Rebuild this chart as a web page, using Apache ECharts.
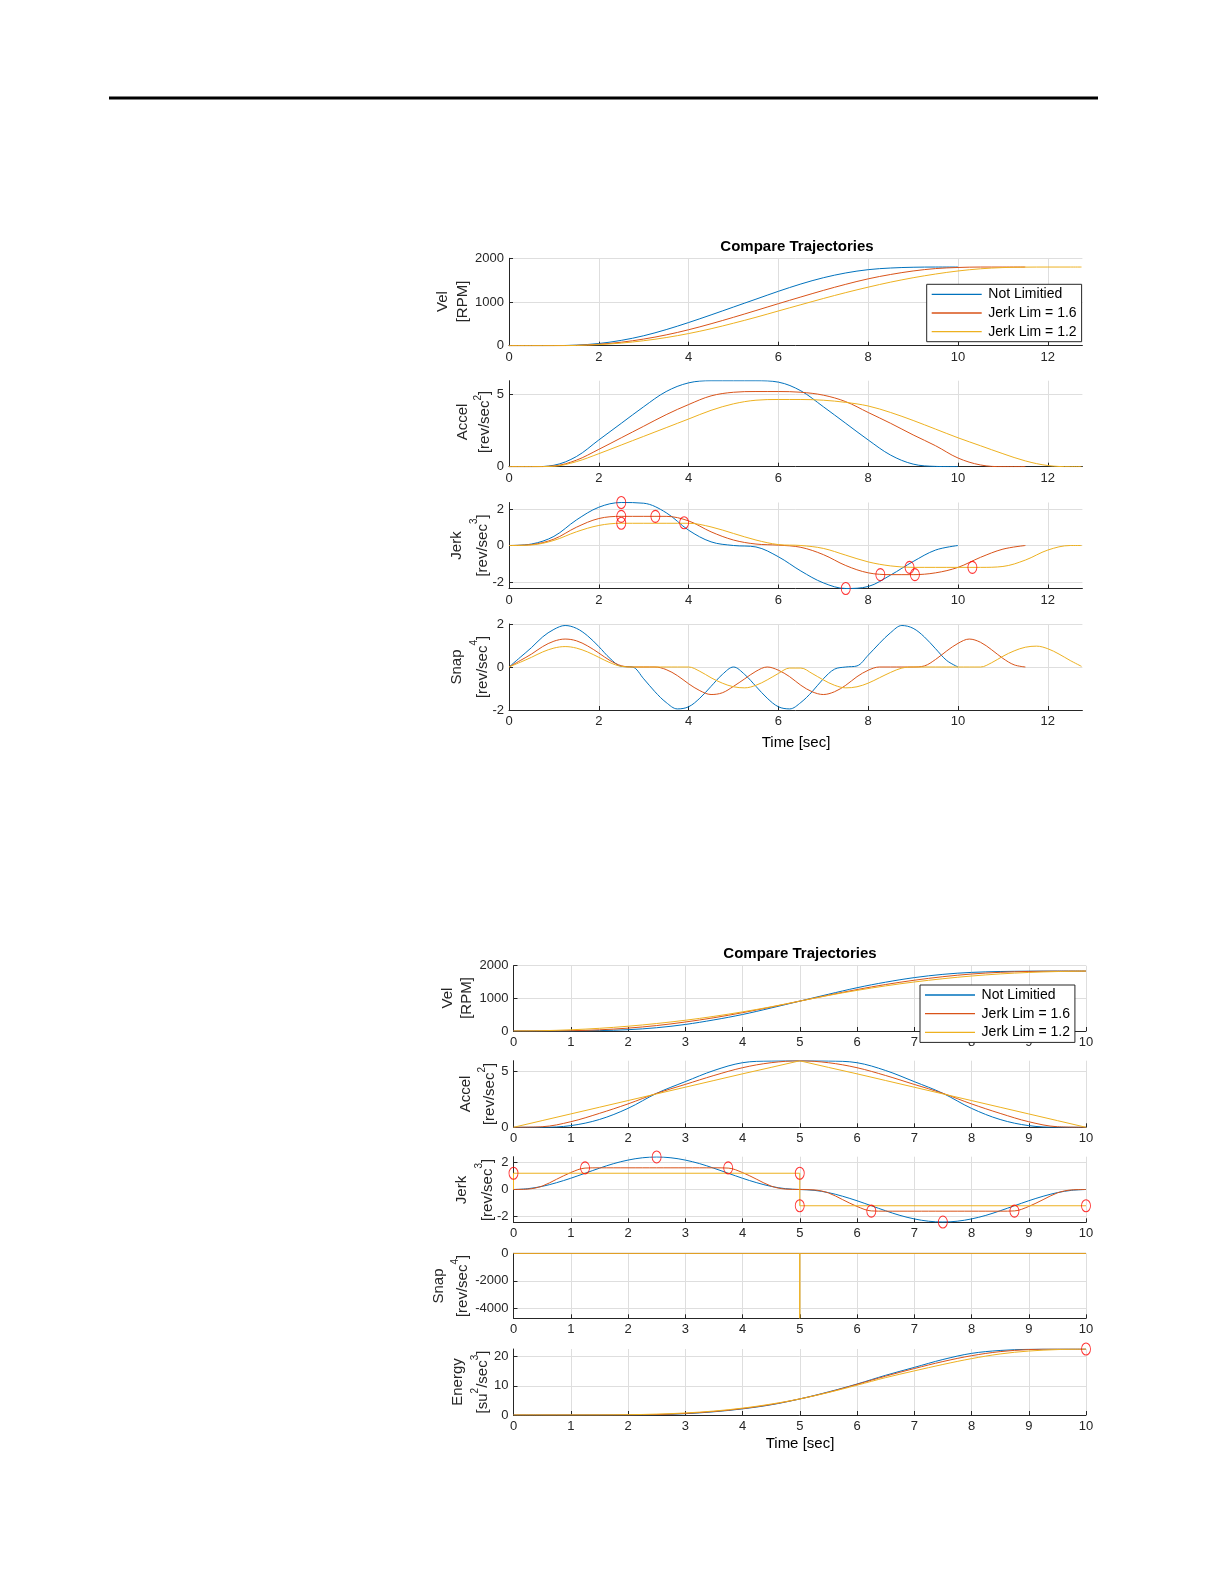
<!DOCTYPE html>
<html>
<head>
<meta charset="utf-8">
<script src="https://cdn.jsdelivr.net/npm/echarts@6/dist/echarts.min.js"></script>
<style>
html,body{margin:0;padding:0;background:#ffffff;}
#chart{width:1224px;height:1584px;}
</style>
</head>
<body>
<div id="chart"></div>
<script>
// ---------------- DATA ----------------
const seriesNames = ['Not Limitied', 'Jerk Lim = 1.6', 'Jerk Lim = 1.2'];

// Top figure: time grids [sec]
const tTop = [0,0.5,1,1.5,2,2.5,3,3.5,4,4.5,5,5.5,6,6.5,7,7.5,8,8.5,9,9.5,10,10.5,11,11.5,12,12.5,12.75];
const tTopS = [0,0.25,0.5,0.75,1,1.25,1.5,1.75,2,2.25,2.5,2.75,3,3.25,3.5,3.75,4,4.25,4.5,4.75,5,5.25,5.5,5.75,6,6.25,6.5,6.75,7,7.25,7.5,7.75,8,8.25,8.5,8.75,9,9.25,9.5,9.75,10,10.25,10.5,10.75,11,11.25,11.5,11.75,12,12.25,12.5,12.75];

// Top: Vel [RPM]
const velTopBlue = [0,0,2,13,50,122,228,368,530,705,885,1065,1245,1412,1555,1665,1740,1778,1795,1800,1800];
const velTopRed = [0,0,1,8,33,80,152,247,365,502,650,805,962,1115,1265,1405,1530,1630,1710,1765,1790,1800,1800,1800];
const velTopYellow = [0,0,0,6,25,60,114,186,278,388,515,650,795,938,1080,1215,1340,1455,1555,1640,1710,1760,1788,1798,1800,1800,1800];

// Top: Accel [rev/sec^2]
const accTopBlue = [0,0,0.1,0.7,1.85,3.0,4.15,5.2,5.8,5.95,5.95,5.95,5.85,5.25,4.15,3.0,1.85,0.8,0.18,0.02,0];
const accTopRed = [0,0,0.05,0.45,1.2,2.0,2.8,3.6,4.3,4.9,5.15,5.2,5.2,5.15,4.95,4.5,3.75,3.0,2.2,1.45,0.6,0.12,0,0];
const accTopYellow = [0,0,0.03,0.35,0.9,1.5,2.1,2.7,3.3,3.9,4.35,4.6,4.65,4.65,4.6,4.45,4.2,3.75,3.2,2.6,2.0,1.45,0.9,0.4,0.08,0,0];

// Top: Jerk [rev/sec^3]
const jerkTopBlue = [0,0.08,0.5,1.4,2.1,2.36,2.32,1.8,0.84,0.2,0,-0.08,-0.62,-1.4,-2.05,-2.36,-2.25,-1.62,-0.88,-0.25,0];
const jerkTopRed = [0,0.05,0.35,1.0,1.48,1.6,1.6,1.6,1.35,0.75,0.3,0.08,0.02,-0.1,-0.5,-1.1,-1.5,-1.6,-1.6,-1.5,-1.2,-0.65,-0.2,0];
const jerkTopYellow = [0,0.03,0.28,0.75,1.1,1.22,1.22,1.22,1.22,1.02,0.66,0.3,0.05,0,-0.16,-0.53,-0.9,-1.12,-1.2,-1.2,-1.2,-1.2,-1.15,-0.8,-0.25,0,0];
const jerkTopMarkT = [2.5,2.5,2.5,3.26,3.9,7.5,8.27,8.92,9.04,10.32];
const jerkTopMarkV = [2.36,1.6,1.22,1.6,1.25,-2.36,-1.6,-1.2,-1.6,-1.2];

// Top: Snap [rev/sec^4]
const snapTopBlue = [0,0.45,0.9,1.4,1.75,1.93,1.8,1.45,0.95,0.4,0.03,0,-0.55,-1.15,-1.65,-1.95,-1.85,-1.45,-0.9,-0.35,0,-0.35,-0.9,-1.45,-1.85,-1.95,-1.65,-1.15,-0.55,-0.1,0,0.05,0.55,1.1,1.6,1.93,1.8,1.4,0.85,0.3,0];
const snapTopRed = [0,0.3,0.6,0.95,1.2,1.3,1.22,0.98,0.65,0.3,0.06,0,0,0,-0.12,-0.4,-0.78,-1.1,-1.28,-1.2,-0.9,-0.55,-0.2,0,-0.15,-0.45,-0.85,-1.15,-1.28,-1.15,-0.85,-0.45,-0.15,0,0,0,0,0.05,0.35,0.75,1.1,1.3,1.15,0.8,0.4,0.1,0];
const snapTopYellow = [0,0.22,0.45,0.7,0.88,0.95,0.88,0.7,0.45,0.2,0.03,0,0,0,0,0,0,-0.2,-0.5,-0.75,-0.92,-0.97,-0.85,-0.6,-0.3,-0.05,-0.05,-0.3,-0.6,-0.85,-0.97,-0.92,-0.75,-0.5,-0.25,-0.05,0,0,0,0,0,0,0,0.2,0.5,0.75,0.92,0.97,0.85,0.6,0.3,0.03];

// Bottom figure: time grids [sec]
const tBot = [0,0.5,1,1.5,2,2.5,3,3.5,4,4.5,5,5.5,6,6.5,7,7.5,8,8.5,9,9.5,10];
const tBotJ = [0,0.25,0.5,0.75,1,1.25,1.5,1.75,2,2.25,2.5,2.75,3,3.25,3.5,3.75,4,4.25,4.5,4.75,5,5.25,5.5,5.75,6,6.25,6.5,6.75,7,7.25,7.5,7.75,8,8.25,8.5,8.75,9,9.25,9.5,9.75,10];

// Bottom: Vel [RPM]
const velBotBlue = [0,0,2,12,40,100,200,340,505,705,915,1125,1325,1495,1635,1735,1795,1822,1832,1835,1835];
const velBotRed = [0,1,9,36,88,167,275,406,561,733,915,1097,1269,1424,1555,1663,1745,1797,1824,1833,1835];
const velBotYellow = [0,9,37,82,146,229,329,448,586,741,915,1089,1244,1382,1501,1601,1684,1748,1793,1821,1835];

// Bottom: Accel
const accBotBlue = [0,0,0.15,0.7,1.7,3.05,4.1,5.1,5.8,5.95,5.97,5.95,5.8,5.1,4.1,3.05,1.7,0.7,0.15,0,0];
const accBotRed = [0,0.05,0.5,1.25,2.1,3.05,3.85,4.65,5.35,5.8,5.97,5.8,5.35,4.65,3.85,3.05,2.1,1.25,0.5,0.05,0];
const accBotYellow = [0,0.6,1.2,1.8,2.4,3.0,3.6,4.2,4.8,5.38,5.97,5.38,4.8,4.2,3.6,3.0,2.4,1.8,1.2,0.6,0];

// Bottom: Jerk
const jerkBotBlue = [0,0.06,0.23,0.5,0.83,1.2,1.57,1.91,2.17,2.34,2.4,2.34,2.17,1.91,1.57,1.2,0.83,0.5,0.23,0.06,0,-0.06,-0.23,-0.5,-0.83,-1.2,-1.57,-1.91,-2.17,-2.34,-2.4,-2.34,-2.17,-1.91,-1.57,-1.2,-0.83,-0.5,-0.23,-0.06,0];
const jerkBotRed = [0,0.03,0.25,0.75,1.25,1.58,1.6,1.6,1.6,1.6,1.6,1.6,1.6,1.6,1.6,1.58,1.25,0.75,0.25,0.03,0,-0.03,-0.25,-0.75,-1.25,-1.58,-1.6,-1.6,-1.6,-1.6,-1.6,-1.6,-1.6,-1.6,-1.6,-1.58,-1.25,-0.75,-0.25,-0.03,0];
const jerkBotYellowT = [0,0,5,5,10];
const jerkBotYellowV = [0,1.2,1.2,-1.2,-1.2];
const jerkBotMarkT = [0,1.25,2.5,3.75,5,5,6.25,7.5,8.75,10];
const jerkBotMarkV = [1.2,1.6,2.4,1.6,1.2,-1.2,-1.6,-2.4,-1.6,-1.2];

// Bottom: Snap
const snapBotT = [0,10];
const snapBotBlue = [0,0];
const snapBotRed = [0,0];
const snapBotYellowT = [0,5,5,5,10];
const snapBotYellowV = [0,0,-4730,0,0];

// Bottom: Energy [su^2/sec^3]
const enBlue = [0,0,0,0,0.02,0.1,0.45,1.1,2.1,3.5,5.5,7.9,10.6,13.6,16.3,19.0,21.1,22.1,22.5,22.6,22.6];
const enRed = [0,0,0,0,0.03,0.15,0.55,1.2,2.2,3.6,5.5,7.8,10.5,13.3,15.9,18.3,20.3,21.7,22.4,22.6,22.6];
const enYellow = [0,0,0,0.02,0.1,0.3,0.7,1.35,2.35,3.75,5.5,7.7,10.2,12.8,15.1,17.3,19.3,20.9,21.9,22.4,22.6];
const enMarkT = [10];
const enMarkV = [22.6];

// ---------------- STYLE / LAYOUT ----------------
const FONT = '"Liberation Sans", Arial, Helvetica, sans-serif';
const COLORS = ['#0072BD', '#D95319', '#EDB120'];
const AXC = '#262626';
const GRIDC = '#dedede';

function pts(t, v) {
  const out = [];
  for (let i = 0; i < v.length; i++) if (v[i] != null) out.push([t[i], v[i]]);
  return out;
}
function plainNum(v) { return String(Math.round(v * 1000) / 1000); }

const grids = [
  {left: 509, width: 573.4, top: 258.3, height: 87.4},
  {left: 509, width: 573.4, top: 380.7, height: 86},
  {left: 509, width: 573.4, top: 502.5, height: 86},
  {left: 509, width: 573.4, top: 624, height: 86},
  {left: 513.5, width: 572.5, top: 965.7, height: 65.3},
  {left: 513.5, width: 572.5, top: 1060.7, height: 66.6},
  {left: 513.5, width: 572.5, top: 1156.7, height: 65.6},
  {left: 513.5, width: 572.5, top: 1253.3, height: 65},
  {left: 513.5, width: 572.5, top: 1349, height: 66}
];

function onStep(v, step) { return Math.abs(v / step - Math.round(v / step)) < 1e-9; }

function xAx(gi, max, step) {
  const showMax = onStep(max, step);
  return {
    type: 'value', gridIndex: gi, min: 0, max: max, interval: step,
    axisLine: {show: true, onZero: false, lineStyle: {color: AXC, width: 1}},
    axisTick: {show: true, inside: true, length: 4, lineStyle: {color: AXC}},
    axisLabel: {show: true, margin: 5, color: AXC, fontSize: 13, fontFamily: FONT, showMinLabel: true, showMaxLabel: showMax, formatter: plainNum},
    splitLine: {show: true, showMinLine: false, showMaxLine: showMax, lineStyle: {color: GRIDC, width: 1}}
  };
}

function yAx(gi, min, max, step) {
  const minOk = onStep(min, step), maxOk = onStep(max, step);
  const ax = {
    type: 'value', gridIndex: gi, min: min, max: max,
    axisLine: {show: true, onZero: false, lineStyle: {color: AXC, width: 1}},
    axisTick: {show: true, inside: true, length: 4, lineStyle: {color: AXC}},
    axisLabel: {show: true, margin: 5, color: AXC, fontSize: 13, fontFamily: FONT, showMinLabel: minOk, showMaxLabel: maxOk, formatter: plainNum},
    splitLine: {show: true, showMinLine: false, showMaxLine: maxOk, lineStyle: {color: GRIDC, width: 1}}
  };
  if (minOk) ax.interval = step; else { ax.minInterval = step; ax.maxInterval = step; }
  return ax;
}

const xAxes = [
  xAx(0, 12.77, 2), xAx(1, 12.77, 2), xAx(2, 12.77, 2), xAx(3, 12.77, 2),
  xAx(4, 10, 1), xAx(5, 10, 1), xAx(6, 10, 1), xAx(7, 10, 1), xAx(8, 10, 1)
];
const yAxes = [
  yAx(0, 0, 2000, 1000), yAx(1, 0, 5.95, 5), yAx(2, -2.36, 2.36, 2), yAx(3, -2, 2, 2),
  yAx(4, 0, 2000, 1000), yAx(5, 0, 5.98, 5), yAx(6, -2.42, 2.42, 2), yAx(7, -4730, 0, 2000), yAx(8, 0, 22.6, 10)
];

function line(ci, gi, data, smooth) {
  return {
    type: 'line', name: seriesNames[ci], xAxisIndex: gi, yAxisIndex: gi, data: data,
    symbol: 'none', showSymbol: false, smooth: smooth === undefined ? 0.35 : smooth,
    lineStyle: {color: COLORS[ci], width: 1}, itemStyle: {color: COLORS[ci]},
    z: 2 + ci, animation: false, silent: true
  };
}
function marks(gi, t, v) {
  return {
    type: 'scatter', xAxisIndex: gi, yAxisIndex: gi, data: pts(t, v),
    symbol: 'circle', symbolSize: [9, 12],
    itemStyle: {color: 'rgba(0,0,0,0)', borderColor: '#ff0000', borderWidth: 1},
    z: 10, animation: false, silent: true, clip: false
  };
}

const series = [
  line(0, 0, pts(tTop, velTopBlue)), line(1, 0, pts(tTop, velTopRed)), line(2, 0, pts(tTop, velTopYellow)),
  line(0, 1, pts(tTop, accTopBlue)), line(1, 1, pts(tTop, accTopRed)), line(2, 1, pts(tTop, accTopYellow)),
  line(0, 2, pts(tTop, jerkTopBlue)), line(1, 2, pts(tTop, jerkTopRed)), line(2, 2, pts(tTop, jerkTopYellow)),
  marks(2, jerkTopMarkT, jerkTopMarkV),
  line(0, 3, pts(tTopS, snapTopBlue)), line(1, 3, pts(tTopS, snapTopRed)), line(2, 3, pts(tTopS, snapTopYellow)),
  line(0, 4, pts(tBot, velBotBlue)), line(1, 4, pts(tBot, velBotRed)), line(2, 4, pts(tBot, velBotYellow)),
  line(0, 5, pts(tBot, accBotBlue)), line(1, 5, pts(tBot, accBotRed)), line(2, 5, pts(tBot, accBotYellow), false),
  line(0, 6, pts(tBotJ, jerkBotBlue)), line(1, 6, pts(tBotJ, jerkBotRed)), line(2, 6, pts(jerkBotYellowT, jerkBotYellowV), false),
  marks(6, jerkBotMarkT, jerkBotMarkV),
  line(0, 7, pts(snapBotT, snapBotBlue), false), line(1, 7, pts(snapBotT, snapBotRed), false), line(2, 7, pts(snapBotYellowT, snapBotYellowV), false),
  line(0, 8, pts(tBot, enBlue)), line(1, 8, pts(tBot, enRed)), line(2, 8, pts(tBot, enYellow)),
  marks(8, enMarkT, enMarkV)
];

function legendAt(left, top) {
  return {
    data: seriesNames, orient: 'vertical', left: left, top: top, icon: 'rect',
    itemWidth: 50, itemHeight: 1.3, itemGap: 4.7, padding: [3, 5, 3, 5],
    backgroundColor: '#ffffff', borderColor: '#262626', borderWidth: 1, borderRadius: 0,
    selectedMode: false, z: 20,
    textStyle: {fontSize: 14, fontFamily: FONT, color: '#000000', lineHeight: 14, padding: [0, 0, 0, 1.6]}
  };
}

function yName(x, y, line1, unit, sup, spacing) {
  const rich = {
    b: {fontSize: 15, fontFamily: FONT, fill: AXC, color: AXC, lineHeight: spacing},
    s: {fontSize: 10, fontFamily: FONT, fill: AXC, color: AXC, lineHeight: Math.max(8, spacing - 12), verticalAlign: 'top'}
  };
  const second = sup ? '{b|' + unit + '}{s|' + sup + '}{b|]}' : '{b|' + unit + '}';
  return {
    type: 'text', x: x, y: y, rotation: Math.PI / 2, silent: true, z: 30,
    style: {text: '{b|' + line1 + '}\n' + second, rich: rich, align: 'center', verticalAlign: 'middle', textAlign: 'center', textVerticalAlign: 'middle'}
  };
}
function plainText(x, y, txt, font) {
  return {
    type: 'text', x: x, y: y, silent: true, z: 30,
    style: {text: txt, font: font, fill: '#000000', align: 'center', verticalAlign: 'middle', textAlign: 'center', textVerticalAlign: 'middle'}
  };
}

const graphics = [
  {type: 'rect', silent: true, shape: {x: 109, y: 96.5, width: 989, height: 3}, style: {fill: '#000000'}},
  plainText(797, 246.7, 'Compare Trajectories', 'bold 15px ' + FONT),
  plainText(800, 954.3, 'Compare Trajectories', 'bold 15px ' + FONT),
  plainText(796, 743, 'Time [sec]', '15px ' + FONT),
  plainText(800, 1444, 'Time [sec]', '15px ' + FONT),
  yName(452.7, 301.5, 'Vel', '[RPM]', null, 19.4),
  yName(473.6, 422, 'Accel', '[rev/sec', '2', 22.3),
  yName(469.6, 545.5, 'Jerk', '[rev/sec', '3', 26),
  yName(469.6, 667, 'Snap', '[rev/sec', '4', 26),
  yName(457, 998, 'Vel', '[RPM]', null, 19.2),
  yName(477.7, 1094, 'Accel', '[rev/sec', '2', 24.2),
  yName(474.7, 1190, 'Jerk', '[rev/sec', '3', 26.3),
  yName(450.7, 1286, 'Snap', '[rev/sec', '4', 23.5),
  yName(470, 1382, 'Energy', '[su', '2', 25.2)
];
// Energy unit has a second superscript: [su^2/sec^3]
graphics[graphics.length - 1].style.text = '{b|Energy}\n{b|[su}{s|2}{b|/sec}{s|3}{b|]}';

const chart = echarts.init(document.getElementById('chart'), null, {renderer: 'canvas', width: 1224, height: 1584});
chart.setOption({
  backgroundColor: '#ffffff',
  animation: false,
  textStyle: {fontFamily: FONT},
  grid: grids,
  xAxis: xAxes,
  yAxis: yAxes,
  legend: [legendAt(926.7, 284.3), legendAt(920, 985)],
  series: series,
  graphic: graphics
});
</script>
</body>
</html>
